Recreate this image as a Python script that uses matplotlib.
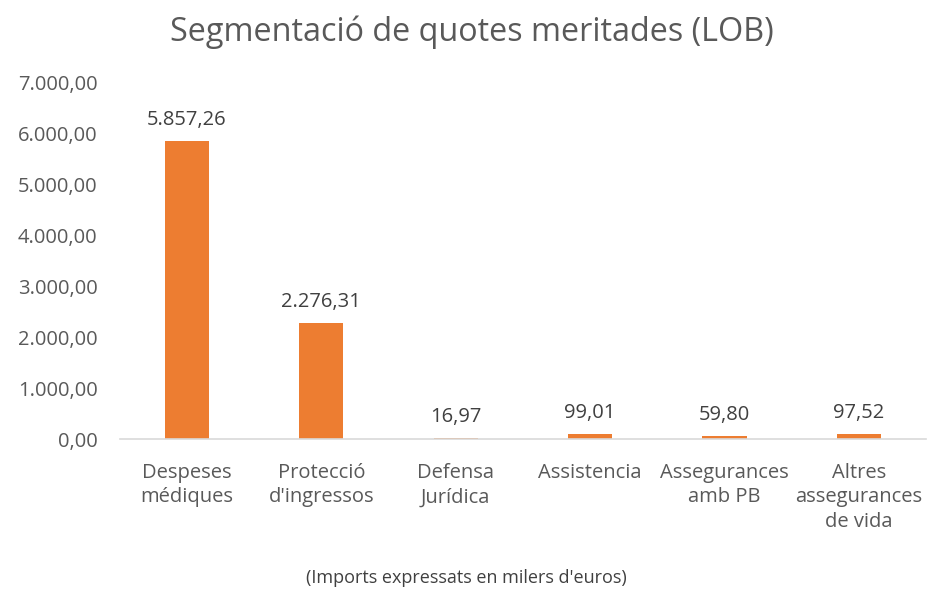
import matplotlib
matplotlib.use("Agg")
import matplotlib.pyplot as plt
from matplotlib.ticker import FuncFormatter

categories = ["Despeses\nmédiques", "Protecció\nd'ingressos", "Defensa\nJurídica",
              "Assistencia", "Assegurances\namb PB", "Altres\nassegurances\nde vida"]
values = [5857.26, 2276.31, 16.97, 99.01, 59.80, 97.52]
yticks = [0, 1000, 2000, 3000, 4000, 5000, 6000, 7000]

def fmt_es(v):
    s = f"{v:,.2f}"
    return s.replace(",", "X").replace(".", ",").replace("X", ".")

plt.rcParams['font.family'] = ['Open Sans', 'DejaVu Sans']
txt = '#595959'

fig = plt.figure(figsize=(9.28, 5.92), dpi=100)
ax = fig.add_axes([0.129, 0.2584, 0.869, 0.6014])
x = list(range(len(categories)))
ax.bar(x, values, width=0.33, color='#ED7D31')
for xi, v in zip(x, values):
    ax.annotate(fmt_es(v), (xi, v), xytext=(0, 8), textcoords='offset points',
                ha='center', va='bottom', fontsize=14.5, color='#404040')
ax.set_xlim(-0.5, len(categories) - 0.5)
ax.set_ylim(0, 7000)
ax.set_yticks(yticks)
ax.yaxis.set_major_formatter(FuncFormatter(lambda v, p: fmt_es(v)))
ax.set_xticks(x)
ax.set_xticklabels(categories, fontsize=14.5, color=txt, linespacing=1.32, va='top')
ax.tick_params(axis='y', labelsize=14.5, labelcolor=txt, length=0, pad=16)
ax.tick_params(axis='x', length=0, pad=17)
for s in ['top', 'right', 'left']:
    ax.spines[s].set_visible(False)
ax.spines['bottom'].set_color('#D9D9D9')
ax.spines['bottom'].set_linewidth(1.2)
fig.text(0.508, 0.945, "Segmentació de quotes meritades (LOB)", ha='center', va='center',
         fontsize=23.3, color=txt)
fig.text(0.503, 0.023, "(Imports expressats en milers d'euros)", ha='center', va='center',
         fontsize=13, color='#404040')
fig.savefig("out.png", dpi=100)
